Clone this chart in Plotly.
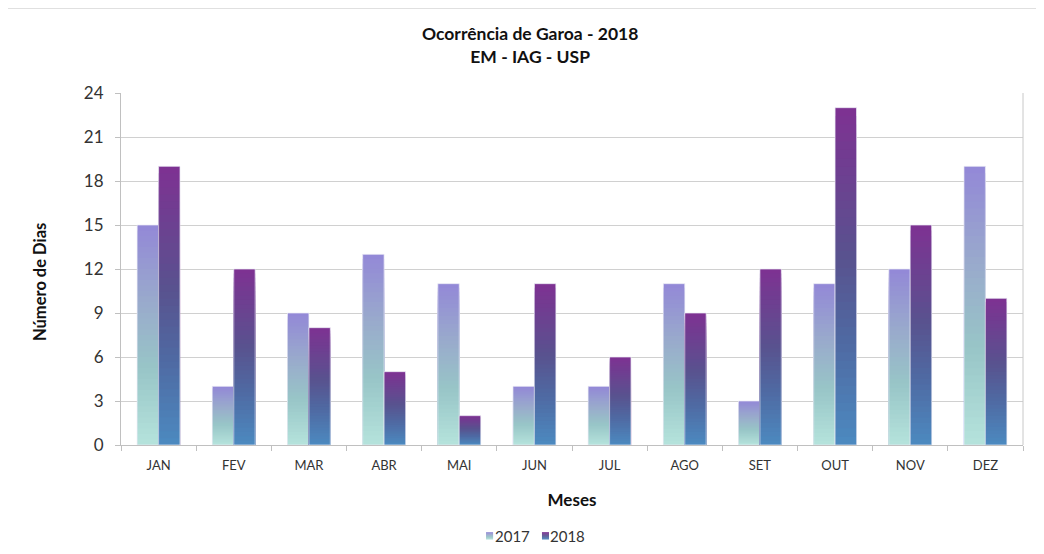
import plotly.graph_objects as go

months = ["JAN", "FEV", "MAR", "ABR", "MAI", "JUN", "JUL", "AGO", "SET", "OUT", "NOV", "DEZ"]
v2017 = [15, 4, 9, 13, 11, 4, 4, 11, 3, 11, 12, 19]
v2018 = [19, 12, 8, 5, 2, 11, 6, 9, 12, 23, 15, 10]
y_ticks = [0, 3, 6, 9, 12, 15, 18, 21, 24]

# gradient stops (bottom -> top) for each series
grad2017 = [(0.0, (181, 227, 220)), (0.35, (152, 197, 199)), (0.65, (153, 170, 204)), (1.0, (147, 136, 215))]
grad2018 = [(0.0, (76, 138, 192)), (0.3, (79, 106, 163)), (0.55, (88, 83, 143)), (1.0, (126, 49, 146))]

FONT = "Lato, 'Open Sans', sans-serif"
N = 40


def interp(stops, t):
    for (t0, c0), (t1, c1) in zip(stops[:-1], stops[1:]):
        if t0 <= t <= t1:
            f = (t - t0) / (t1 - t0) if t1 > t0 else 0
            return "rgb(%d,%d,%d)" % tuple(round(a + (b - a) * f) for a, b in zip(c0, c1))
    return "rgb(%d,%d,%d)" % stops[-1][1]


fig = go.Figure()


def add_series(name, values, stops):
    # overlapping bars from 0, tallest drawn first, so each band shows a gradient step
    for k in range(N - 1, -1, -1):
        t = (k + 0.5) / N
        fig.add_trace(go.Bar(
            x=months,
            y=[v * (k + 1) / N for v in values],
            offsetgroup=name,
            name=name,
            showlegend=False,
            marker=dict(color=interp(stops, t), line=dict(width=0)),
            hoverinfo="skip",
        ))
    # light outline
    fig.add_trace(go.Bar(
        x=months,
        y=values,
        offsetgroup=name,
        name=name,
        showlegend=False,
        marker=dict(color="rgba(0,0,0,0)", line=dict(width=1, color="rgba(235,235,245,0.7)")),
    ))


add_series("2017", v2017, grad2017)
add_series("2018", v2018, grad2018)

fig.update_layout(
    width=1044,
    height=554,
    barmode="group",
    bargap=0.43,
    bargroupgap=0,
    plot_bgcolor="white",
    paper_bgcolor="white",
    margin=dict(l=113, r=29, t=85, b=117),
    font=dict(family=FONT, color="#222"),
    showlegend=False,
    xaxis=dict(
        type="category",
        tickfont=dict(size=13, color="#333"),
        showline=True,
        linecolor="#c0c0c0",
        linewidth=1,
        ticks="outside",
        tickson="boundaries",
        ticklen=5,
        tickcolor="#c0c0c0",
        ticklabelstandoff=8,
        showgrid=False,
        title=dict(text="<b>Meses</b>", font=dict(size=17, color="#111"), standoff=22),
    ),
    yaxis=dict(
        range=[0, 24],
        tickvals=y_ticks,
        tickfont=dict(size=17, color="#333"),
        showline=True,
        linecolor="#c0c0c0",
        linewidth=1,
        ticks="outside",
        ticklen=5,
        tickcolor="#c0c0c0",
        ticklabelstandoff=8,
        showgrid=True,
        gridcolor="#d0d0d0",
        gridwidth=1,
        zeroline=False,
    ),
)

# y-axis title placed like the reference
fig.add_annotation(text="<b>Número de Dias</b>", xref="paper", yref="paper", x=-0.0898, y=0.463,
                   xanchor="center", yanchor="middle", textangle=-90, showarrow=False,
                   font=dict(size=16.5, color="#111"))

# right border of the plot area
fig.add_shape(type="line", xref="paper", yref="paper", x0=1, x1=1, y0=0, y1=1,
              line=dict(color="#c8c8c8", width=1))
# outer chart frame
fig.add_shape(type="rect", xref="paper", yref="paper", x0=-0.1275, x1=1.1, y0=-0.5, y1=1.2415,
              line=dict(color="#d6d6d6", width=1.5), fillcolor="rgba(0,0,0,0)", layer="below")

fig.add_annotation(text="<b>Ocorrência de Garoa - 2018</b><br><b>EM - IAG - USP</b>",
                   xref="paper", yref="paper", x=0.4534, y=1.205, xanchor="center", yanchor="top",
                   showarrow=False, font=dict(size=17.5, color="#111"))

# manual legend with gradient swatches
legend_items = [("2017", grad2017, 0.4047), ("2018", grad2018, 0.4667)]
for name, stops, xp in legend_items:
    fig.add_annotation(text=name, xref="paper", yref="paper", x=xp + 0.0072, y=-0.2585,
                       xanchor="left", yanchor="middle", showarrow=False,
                       font=dict(size=15, color="#333"))
    for j in range(7):
        h = 0.0199
        fig.add_shape(type="rect", xref="paper", yref="paper",
                      x0=xp, x1=xp + 0.0078,
                      y0=-0.2585 - h / 2 + j / 7 * h, y1=-0.2585 - h / 2 + (j + 1) / 7 * h + 0.001,
                      line=dict(width=0), fillcolor=interp(stops, (j + 0.5) / 7))

fig.write_html("out.html")
